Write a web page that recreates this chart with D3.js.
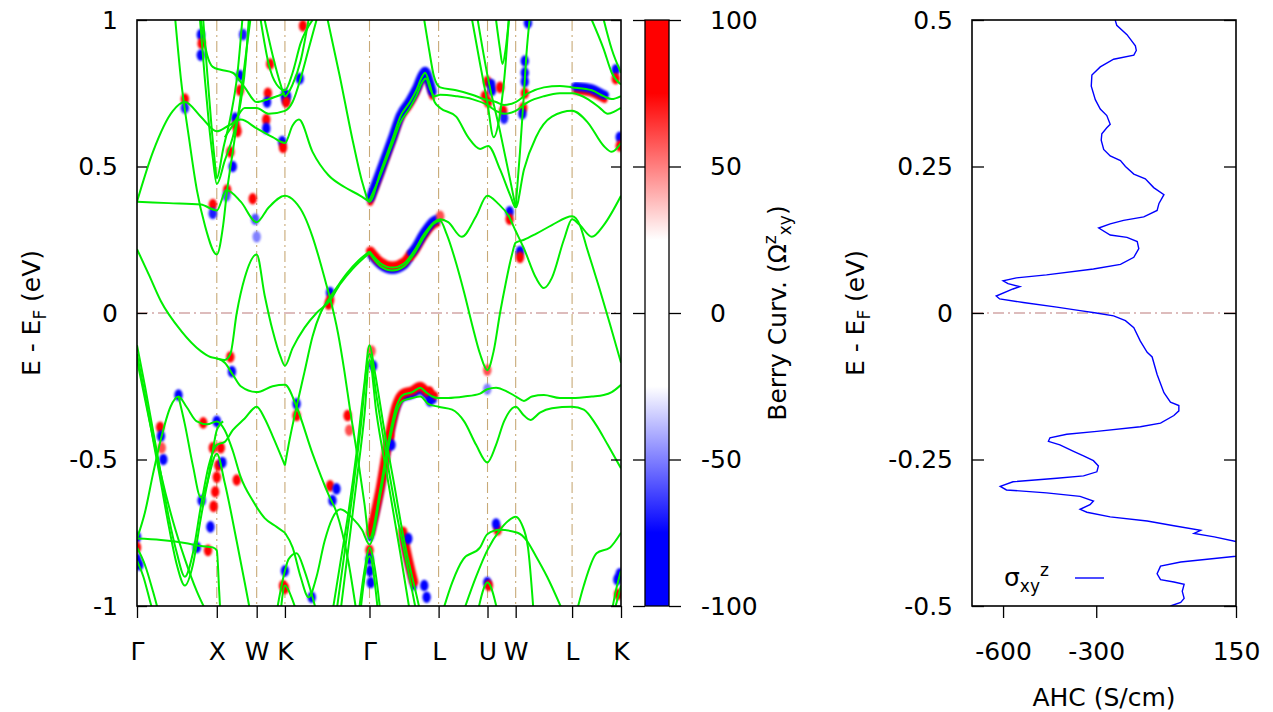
<!DOCTYPE html>
<html>
<head>
<meta charset="utf-8">
<script src="https://cdn.jsdelivr.net/npm/d3@7"></script>
<style>
  body { margin: 0; background: #fff; }
  text { font-family: "DejaVu Sans", sans-serif; fill: #000; }
</style>
</head>
<body>
<svg id="chart" width="1273" height="712"></svg>
<script>
// ---- k-path ----
const kTicks = [0, 1, 1.5, 1.854, 2.914, 3.78, 4.393, 4.746, 5.453, 6.066];
const kLabels = ["Γ", "X", "W", "K", "Γ", "L", "U", "W", "L", "K"];
const energyTicks = [-1, -0.5, 0, 0.5, 1];
const berryTicks = [-100, -50, 0, 50, 100];
const ahcTicks = [-600, -300, 150];
const ahcEnergyTicks = [-0.5, -0.25, 0, 0.25, 0.5];

// ---- bands, [k, E] ----
const bandU1 = [[0,0.38],[0.2,0.55],[0.45,0.69],[0.6,0.72],[0.8,0.67],[1.0,0.62],[1.15,0.64],[1.3,0.66],[1.5,0.63],[1.7,0.6],[1.854,0.58],[1.95,0.64],[2.03,0.66],[2.2,0.55],[2.4,0.47],[2.6,0.43],[2.8,0.40],[2.914,0.38]];
const bandL1 = [[0,0.38],[0.4,0.375],[0.8,0.37],[1.0,0.35],[1.12,0.42],[1.3,0.38],[1.5,0.31],[1.65,0.36],[1.854,0.40],[1.98,0.38],[2.1,0.33],[2.2,0.26],[2.3,0.17],[2.37,0.10],[2.42,0.05],[2.52,-0.07],[2.6,-0.2],[2.67,-0.33],[2.77,-0.5],[2.85,-0.65],[2.914,-0.77],[3.05,-0.6],[3.15,-0.44],[3.25,-0.32],[3.33,-0.28],[3.45,-0.27],[3.55,-0.255],[3.62,-0.27],[3.7,-0.285],[3.78,-0.29],[3.9,-0.29],[4.1,-0.285],[4.3,-0.275],[4.39,-0.26],[4.5,-0.255],[4.65,-0.27],[4.75,-0.285],[4.85,-0.30],[4.95,-0.285],[5.1,-0.28],[5.3,-0.29],[5.453,-0.29],[5.7,-0.285],[5.85,-0.28],[5.95,-0.27],[6.066,-0.245]];
const bandL1b = [[1.854,-0.75],[1.95,-0.80],[2.05,-0.90],[2.15,-0.97],[2.25,-0.90],[2.35,-0.78],[2.45,-0.70],[2.55,-0.67],[2.7,-0.70],[2.82,-0.74],[2.914,-0.79],[3.05,-0.62],[3.15,-0.46],[3.25,-0.34],[3.33,-0.30],[3.45,-0.29],[3.55,-0.285],[3.65,-0.31],[3.78,-0.32],[3.95,-0.33],[4.1,-0.37],[4.25,-0.45],[4.39,-0.51],[4.5,-0.45],[4.6,-0.37],[4.746,-0.32],[4.85,-0.35],[4.93,-0.365],[5.05,-0.34],[5.2,-0.325],[5.453,-0.32],[5.6,-0.33],[5.75,-0.38],[5.9,-0.45],[6.066,-0.53]];
const bandU3 = [[2.39,1.0],[2.54,0.81],[2.71,0.58],[2.83,0.44],[2.914,0.38],[3.05,0.48],[3.21,0.60],[3.3,0.67],[3.42,0.72],[3.5,0.76],[3.58,0.81],[3.61,0.82],[3.67,0.78],[3.73,0.72],[3.8,0.70],[4.0,0.67],[4.15,0.60],[4.3,0.56],[4.4,0.57],[4.55,0.49],[4.68,0.40],[4.746,0.36],[4.85,0.49],[5.0,0.60],[5.2,0.67],[5.453,0.69],[5.65,0.65],[5.85,0.57],[5.95,0.55],[6.066,0.58]];
const bandU5 = [[2.914,0.385],[3.05,0.47],[3.21,0.585],[3.3,0.65],[3.42,0.70],[3.5,0.74],[3.58,0.79],[3.62,0.80],[3.68,0.76],[3.73,0.74],[3.8,0.745],[4.0,0.74],[4.2,0.73],[4.39,0.71],[4.5,0.69],[4.6,0.68],[4.746,0.69],[4.9,0.72],[5.1,0.74],[5.3,0.75],[5.453,0.75],[5.65,0.73],[5.8,0.70],[5.9,0.68],[6.0,0.69],[6.066,0.70]];
const bandU4 = [[3.6,1.0],[3.66,0.9],[3.72,0.81],[3.8,0.77],[4.0,0.76],[4.2,0.745],[4.35,0.73],[4.5,0.72],[4.6,0.71],[4.746,0.72],[4.9,0.75],[5.1,0.77],[5.3,0.775],[5.453,0.77],[5.7,0.76],[5.85,0.74],[5.95,0.73],[6.066,0.74]];
const bandM1 = [[2.914,0.21],[3.05,0.17],[3.2,0.155],[3.35,0.17],[3.48,0.215],[3.6,0.27],[3.72,0.31],[3.8,0.32],[3.9,0.31],[4.07,0.26],[4.25,0.33],[4.39,0.40],[4.52,0.375],[4.66,0.33],[4.746,0.28],[4.85,0.22],[5.0,0.12],[5.1,0.085],[5.2,0.12],[5.35,0.25],[5.453,0.32],[5.55,0.30],[5.7,0.26],[5.85,0.30],[6.066,0.40]];
const bandM2 = [[2.914,0.205],[3.05,0.16],[3.2,0.145],[3.35,0.16],[3.48,0.205],[3.6,0.26],[3.72,0.305],[3.8,0.315],[3.88,0.27],[4.0,0.17],[4.1,0.07],[4.2,-0.04],[4.3,-0.14],[4.39,-0.195],[4.47,-0.13],[4.55,0.0],[4.62,0.1],[4.7,0.2],[4.746,0.24],[4.85,0.25],[5.0,0.27],[5.2,0.30],[5.453,0.33],[5.55,0.30],[5.64,0.22],[5.8,0.08],[5.93,-0.04],[6.066,-0.17]];
const bandN2 = [[1.854,-0.52],[1.9,-0.45],[2.0,-0.32],[2.1,-0.20],[2.2,-0.08],[2.3,0.0],[2.41,0.05],[2.51,0.09],[2.63,0.135],[2.78,0.18],[2.914,0.21]];
const bandD1 = [[0,0.218],[0.15,0.13],[0.3,0.04],[0.55,-0.06],[0.8,-0.13],[0.92,-0.15],[1.0,-0.155],[1.1,-0.16],[1.17,-0.14],[1.25,0.0],[1.35,0.12],[1.5,0.2],[1.6,0.06],[1.7,-0.06],[1.8,-0.15],[1.854,-0.18],[1.95,-0.12],[2.1,-0.05],[2.25,0.0],[2.41,0.04],[2.55,0.10],[2.7,0.15],[2.914,0.205]];
const bandD2 = [[1.0,-0.155],[1.1,-0.17],[1.2,-0.21],[1.3,-0.25],[1.5,-0.27],[1.7,-0.25],[1.854,-0.245],[2.0,-0.32],[2.2,-0.48],[2.4,-0.62],[2.5,-0.68],[2.65,-0.85],[2.75,-1.02]];
const bandG1 = [[0,-0.11],[0.1,-0.25],[0.2,-0.40],[0.3,-0.55],[0.4,-0.70],[0.5,-0.82],[0.6,-0.90],[0.7,-0.82],[0.8,-0.66],[0.9,-0.52],[1.0,-0.45],[1.1,-0.44],[1.2,-0.40],[1.35,-0.36],[1.5,-0.32],[1.6,-0.36],[1.7,-0.42],[1.854,-0.52]];
const bandG2 = [[0,-0.14],[0.1,-0.28],[0.2,-0.43],[0.3,-0.58],[0.4,-0.73],[0.5,-0.86],[0.6,-0.93],[0.7,-0.86],[0.8,-0.70],[0.9,-0.56],[1.0,-0.48],[1.1,-0.58],[1.25,-0.78],[1.35,-0.92],[1.42,-1.02]];
const bandG3 = [[0,-0.16],[0.15,-0.36],[0.3,-0.55],[0.45,-0.71],[0.6,-0.84],[0.75,-0.95],[0.87,-1.02]];
const bandH1 = [[0,-0.77],[0.1,-0.68],[0.2,-0.55],[0.3,-0.43],[0.42,-0.32],[0.52,-0.285],[0.62,-0.32],[0.75,-0.37],[0.88,-0.38],[1.0,-0.37],[1.1,-0.40],[1.2,-0.47],[1.3,-0.56],[1.45,-0.64],[1.6,-0.70],[1.75,-0.73],[1.854,-0.75]];
const bandH2 = [[0.52,-0.285],[0.6,-0.38],[0.7,-0.52],[0.8,-0.63],[0.88,-0.58],[0.95,-0.47],[1.0,-0.40],[1.08,-0.37]];
const bandF1 = [[0,-0.77],[0.3,-0.775],[0.6,-0.785],[0.8,-0.795],[0.95,-0.80],[1.0,-0.81],[1.03,-0.95],[1.05,-1.05]];
const bandF2 = [[0,-0.80],[0.1,-0.86],[0.2,-0.95],[0.27,-1.02]];
const bandF3 = [[0,-0.845],[0.08,-0.9],[0.16,-0.98],[0.2,-1.02]];
const bandV1a = [[0.79,1.0],[0.85,0.8],[0.9,0.65],[0.95,0.53],[1.0,0.44],[1.1,0.52],[1.2,0.6],[1.3,0.72],[1.36,0.85],[1.4,1.0]];
const bandV1b = [[0.83,1.0],[0.88,0.82],[0.93,0.65],[0.97,0.53],[1.0,0.46],[1.08,0.56],[1.18,0.68],[1.26,0.82],[1.32,1.0]];
const bandV2 = [[0.48,1.0],[0.55,0.8],[0.65,0.6],[0.75,0.42],[0.85,0.3],[1.0,0.2],[1.08,0.3],[1.13,0.42],[1.2,0.55],[1.28,0.7],[1.35,0.85],[1.42,1.0]];
const bandW3 = [[0.8,1.0],[0.88,0.88],[0.95,0.84],[1.05,0.83],[1.2,0.82],[1.35,0.77],[1.5,0.72],[1.65,0.73],[1.854,0.75]];
const bandW1 = [[1.1,0.60],[1.2,0.64],[1.35,0.70],[1.5,0.70],[1.65,0.68],[1.854,0.69],[1.95,0.72],[2.05,0.80],[2.15,0.90],[2.25,1.0]];
const bandT1 = [[1.55,1.0],[1.65,0.85],[1.75,0.78],[1.854,0.76],[1.95,0.82],[2.05,0.92],[2.2,1.0]];
const bandT2 = [[1.6,1.0],[1.7,0.88],[1.8,0.78],[1.854,0.74],[1.95,0.78],[2.05,0.86],[2.15,1.0]];
const bandL2a = [[2.45,-1.02],[2.55,-0.85],[2.65,-0.68],[2.75,-0.48],[2.85,-0.24],[2.914,-0.11],[2.98,-0.20],[3.1,-0.40],[3.22,-0.58],[3.35,-0.78],[3.5,-0.96],[3.55,-1.02]];
const bandL2b = [[2.5,-1.02],[2.6,-0.82],[2.7,-0.62],[2.8,-0.40],[2.914,-0.14],[3.0,-0.28],[3.12,-0.48],[3.25,-0.68],[3.4,-0.88],[3.5,-1.02]];
const bandL2c = [[2.55,-1.02],[2.65,-0.80],[2.75,-0.58],[2.85,-0.35],[2.914,-0.16],[3.0,-0.34],[3.15,-0.58],[3.3,-0.82],[3.42,-1.02]];
const bandL3a = [[2.78,-1.02],[2.85,-0.88],[2.914,-0.80],[2.98,-0.87],[3.05,-1.02]];
const bandL3b = [[2.8,-1.02],[2.914,-0.83],[3.02,-1.02]];
const bandK2 = [[1.75,-1.02],[1.82,-0.92],[1.854,-0.88],[1.9,-0.84],[2.0,-0.82],[2.1,-0.88],[2.2,-0.97],[2.25,-1.02]];
const bandK3 = [[1.8,-1.02],[1.854,-0.93],[1.95,-0.98],[2.0,-1.02]];
const bandR1 = [[4.2,1.0],[4.3,0.85],[4.39,0.72],[4.47,0.60],[4.55,0.68],[4.62,0.85],[4.66,1.0]];
const bandR2 = [[4.746,0.36],[4.8,0.55],[4.85,0.75],[4.88,0.88],[4.92,1.0]];
const bandR3 = [[4.5,1.0],[4.55,0.9],[4.58,0.85],[4.62,0.9],[4.66,1.0]];
const bandR5 = [[4.27,1.0],[4.4,0.8],[4.55,0.62],[4.68,0.45],[4.746,0.36]];
const bandS2 = [[5.7,1.0],[5.85,0.9],[5.95,0.82],[6.066,0.78]];
const bandS3 = [[5.85,1.0],[5.95,0.9],[6.066,0.82]];
const bandP1 = [[3.83,-1.02],[3.95,-0.92],[4.09,-0.84],[4.3,-0.80],[4.39,-0.755],[4.55,-0.74],[4.77,-0.75],[4.88,-0.775],[5.0,-0.83],[5.14,-0.90],[5.34,-1.02]];
const bandP2 = [[4.09,-1.02],[4.25,-0.9],[4.39,-0.81],[4.55,-0.74],[4.65,-0.71],[4.746,-0.695],[4.82,-0.72],[4.9,-0.8],[4.97,-1.02]];
const bandP3 = [[5.51,-1.02],[5.6,-0.93],[5.76,-0.82],[5.93,-0.80],[6.066,-0.75]];
const bandP4 = [[4.27,-1.02],[4.393,-0.92],[4.52,-1.02]];
const bandP5 = [[5.95,-1.02],[6.0,-0.95],[6.066,-0.88]];
const bandP6 = [[5.98,-1.02],[6.066,-0.93]];

const bands = [bandU1, bandL1, bandL1b, bandU3, bandU5, bandU4, bandM1, bandM2, bandN2,
  bandD1, bandD2, bandG1, bandG2, bandG3, bandH1, bandH2, bandF1, bandF2, bandF3, bandV1a, bandV1b, bandV2,
  bandW3, bandW1, bandT1, bandT2, bandL2a, bandL2b, bandL2c, bandL3a, bandL3b, bandK2, bandK3,
  bandR1, bandR2, bandR3, bandR5, bandS2, bandS3, bandP1, bandP2, bandP3, bandP4, bandP5, bandP6];

// Berry curvature along stretches of bands: value above / below the line
const berryStretches = [
  { band: bandU3, from: 2.925, to: 3.7, above: -100, below: 95 },
  { band: bandM1, from: 2.925, to: 3.42, above: 100, below: -100 },
  { band: bandM1, from: 3.44, to: 3.76, above: -100, below: 90 },
  { band: bandL1, from: 2.925, to: 3.72, above: 100, below: -100 },
  { band: bandL2a, from: 3.33, to: 3.47, above: 100, below: -90 },
  { band: bandU4, from: 5.5, to: 5.86, above: -100, below: 100 }
];

// Berry curvature hot spots, [k, E, value]
const berrySpots = [
  [0.6,0.73,90],[0.6,0.70,-70],[0.8,0.95,-90],[0.81,0.92,80],[0.8,0.88,-80],
  [0.95,0.37,90],[0.95,0.34,-70],[1.13,0.42,90],[1.12,0.40,-60],[1.17,0.55,85],[1.2,0.50,-80],
  [1.23,0.665,-90],[1.24,0.64,90],[1.26,0.62,80],[1.29,0.81,-100],[1.29,0.76,90],[1.33,0.95,-70],
  [1.45,0.39,80],[1.48,0.32,-60],[1.5,0.26,-50],[1.64,0.75,90],[1.63,0.72,-80],[1.62,0.66,90],
  [1.62,0.63,-90],[1.67,0.85,90],[1.82,0.585,-100],[1.83,0.565,90],[1.854,0.745,-100],
  [1.86,0.73,-90],[1.88,0.74,-90],[1.87,0.72,80],[2.04,0.80,-90],[2.08,0.98,95],
  [2.42,0.07,-90],[2.42,0.045,80],[2.4,0.03,90],
  [4.39,0.79,90],[4.44,0.78,-95],[4.45,0.76,-90],[4.36,0.74,90],[4.4,0.72,95],[4.55,0.77,90],
  [4.59,0.69,95],[4.6,0.665,-70],[4.86,0.86,-100],[4.86,0.82,-100],[4.86,0.79,-95],[4.86,0.75,90],
  [4.84,0.70,90],[4.83,0.68,-80],[4.9,0.99,-90],[4.67,0.345,-90],[4.67,0.32,90],[4.8,0.21,-90],
  [4.8,0.19,90],[3.8,0.33,60],[6.0,0.83,-90],[6.0,0.80,90],[6.05,0.60,-100],[6.05,0.57,95],
  [0,-0.765,-100],[0,-0.80,100],[0,-0.84,-100],[0.03,-0.86,-80],[0.29,-0.39,90],[0.3,-0.42,-90],
  [0.33,-0.50,-90],[0.31,-0.46,60],[0.52,-0.28,-80],[0.81,-0.64,-95],[0.75,-0.80,-90],[0.89,-0.81,95],
  [0.92,-0.73,-90],[0.96,-0.66,100],[0.98,-0.61,100],[1.0,-0.56,100],[1.02,-0.52,90],[0.95,-0.46,95],
  [1.05,-0.46,90],[1.07,-0.51,-90],[0.83,-0.375,80],[1.0,-0.37,-80],[1.17,-0.15,95],[1.19,-0.20,-90],
  [1.25,-0.57,95],[1.854,-0.88,-95],[1.854,-0.94,100],[1.83,-0.93,90],
  [2.0,-0.31,-100],[2.0,-0.35,80],[2.64,-0.35,90],[2.66,-0.40,60],[2.42,-0.59,95],[2.45,-0.64,-90],
  [2.5,-0.60,-80],[2.19,-0.97,-80],[2.914,-0.81,100],[2.914,-0.84,-100],[2.92,-0.88,-90],
  [2.93,-0.92,-90],[2.96,-0.18,-90],[2.94,-0.13,60],[3.17,-0.42,90],[3.19,-0.45,-90],
  [3.4,-0.77,-90],[3.63,-0.97,-90],[3.6,-0.93,-90],
  [4.39,-0.195,60],[4.39,-0.26,-50],[4.52,-0.74,95],[4.5,-0.72,-90],[4.39,-0.92,-90],[4.41,-0.93,90],
  [6.02,-0.91,-100],[6.03,-0.96,100],[6.05,-0.89,-90],[3.67,-0.27,90],[3.67,-0.30,-90]
];

// ---- anomalous Hall conductivity ----
const ahcEnergy = [0.5,0.491,0.475,0.456,0.448,0.44,0.433,0.42,0.406,0.387,0.364,0.348,0.337,0.322,0.316,0.306,0.295,0.279,0.268,0.26,0.25,0.237,0.229,0.214,0.202,0.187,0.175,0.164,0.158,0.152,0.145,0.133,0.129,0.122,0.11,0.095,0.083,0.075,0.065,0.06,0.055,0.05,0.045,0.041,0.029,0.024,0.018,0.01,0.004,0,-0.005,-0.013,-0.025,-0.048,-0.067,-0.075,-0.105,-0.136,-0.152,-0.158,-0.167,-0.175,-0.188,-0.194,-0.202,-0.207,-0.213,-0.219,-0.225,-0.236,-0.244,-0.252,-0.261,-0.271,-0.278,-0.282,-0.288,-0.296,-0.302,-0.307,-0.313,-0.321,-0.327,-0.335,-0.34,-0.348,-0.355,-0.363,-0.371,-0.376,-0.382,-0.39,-0.40,-0.41,-0.415,-0.425,-0.432,-0.445,-0.455,-0.459,-0.463,-0.475,-0.487,-0.494,-0.5];
const ahcValue = [-239,-234,-201,-174,-171,-179,-244,-287,-314,-316,-303,-287,-266,-255,-266,-282,-284,-276,-255,-222,-206,-179,-142,-115,-82,-98,-104,-147,-212,-255,-292,-255,-201,-168,-163,-179,-222,-309,-460,-557,-600,-584,-546,-568,-622,-611,-535,-427,-352,-300,-244,-206,-179,-158,-136,-120,-104,-82,-61,-34,-34,-50,-93,-158,-298,-395,-449,-454,-417,-373,-341,-309,-293,-298,-341,-427,-568,-609,-589,-460,-352,-309,-320,-352,-330,-255,-136,-50,36,15,80,150,175,170,150,-28,-93,-104,-93,-50,-17,-23,-17,-28,-61];

// ---- layout ----
const svg = d3.select("#chart");
const FONT = 25;
const bandArea = { left: 137, right: 621, top: 20, bottom: 606 };
const ahcArea = { left: 972, right: 1236, top: 20, bottom: 606 };

const kScale = d3.scaleLinear().domain([0, 6.066]).range([bandArea.left, bandArea.right]);
const eScale = d3.scaleLinear().domain([-1, 1]).range([bandArea.bottom, bandArea.top]);
const berryScale = d3.scaleLinear().domain([-100, 100]).range([606, 20]);
const berryColour = d3.scaleLinear()
  .domain([-100, -75, -25, 25, 75, 100])
  .range(["#0000ff", "#0000ff", "#ffffff", "#ffffff", "#ff0000", "#ff0000"])
  .clamp(true);
const ahcX = d3.scaleLinear().domain([-700, 150]).range([ahcArea.left, ahcArea.right]);
const ahcY = d3.scaleLinear().domain([-0.5, 0.5]).range([ahcArea.bottom, ahcArea.top]);

const defs = svg.append("defs");
defs.append("clipPath").attr("id", "bandClip").append("rect")
  .attr("x", bandArea.left).attr("y", bandArea.top)
  .attr("width", bandArea.right - bandArea.left).attr("height", bandArea.bottom - bandArea.top);
defs.append("clipPath").attr("id", "ahcClip").append("rect")
  .attr("x", ahcArea.left).attr("y", ahcArea.top)
  .attr("width", ahcArea.right - ahcArea.left).attr("height", ahcArea.bottom - ahcArea.top);
defs.append("filter").attr("id", "soft").attr("x", "-50%").attr("y", "-50%").attr("width", "200%").attr("height", "200%")
  .append("feGaussianBlur").attr("stdDeviation", 0.9);

function styleAxis(g) {
  g.select(".domain").remove();
  g.attr("font-size", FONT).attr("font-family", "DejaVu Sans, sans-serif");
  g.selectAll(".tick line").attr("stroke-width", 1.3);
}

// part of a band between two k values
function stretchOf(band, k0, k1) {
  const at = k => {
    for (let i = 0; i < band.length - 1; i++) {
      const [a, ea] = band[i], [b, eb] = band[i + 1];
      if (k >= a && k <= b) return ea + (eb - ea) * (k - a) / (b - a);
    }
    return band[band.length - 1][1];
  };
  return [[k0, at(k0)], ...band.filter(p => p[0] > k0 && p[0] < k1), [k1, at(k1)]];
}

const bandLine = d3.line().x(d => kScale(d[0])).y(d => eScale(d[1])).curve(d3.curveMonotoneX);

// ---- band structure panel ----
const plot = svg.append("g").attr("clip-path", "url(#bandClip)");

plot.selectAll(".kline").data(kTicks.slice(1, -1)).join("line")
  .attr("x1", d => kScale(d)).attr("x2", d => kScale(d))
  .attr("y1", bandArea.top).attr("y2", bandArea.bottom)
  .attr("stroke", "#c8aa78").attr("stroke-width", 1.1).attr("stroke-dasharray", "11,4,2,4");
plot.append("line")
  .attr("x1", bandArea.left).attr("x2", bandArea.right)
  .attr("y1", eScale(0)).attr("y2", eScale(0))
  .attr("stroke", "#bb7a7a").attr("stroke-width", 1.1).attr("stroke-dasharray", "11,4,2,4");

berryStretches.forEach(s => {
  const pts = stretchOf(s.band, s.from, s.to);
  plot.append("path").attr("d", bandLine(pts)).attr("fill", "none")
    .attr("stroke", berryColour(s.below)).attr("stroke-width", 6).attr("stroke-linecap", "round")
    .attr("transform", "translate(0,3.5)").attr("filter", "url(#soft)");
  plot.append("path").attr("d", bandLine(pts)).attr("fill", "none")
    .attr("stroke", berryColour(s.above)).attr("stroke-width", 9).attr("stroke-linecap", "round")
    .attr("transform", "translate(0,-1.5)").attr("filter", "url(#soft)");
});

plot.selectAll(".spot").data(berrySpots).join("ellipse")
  .attr("cx", d => kScale(d[0])).attr("cy", d => eScale(d[1]))
  .attr("rx", 4.2).attr("ry", 5.8)
  .attr("fill", d => berryColour(d[2]))
  .attr("filter", "url(#soft)");

plot.selectAll(".band").data(bands).join("path")
  .attr("d", bandLine).attr("fill", "none")
  .attr("stroke", "#00ee00").attr("stroke-width", 2);

svg.append("rect")
  .attr("x", bandArea.left).attr("y", bandArea.top)
  .attr("width", bandArea.right - bandArea.left).attr("height", bandArea.bottom - bandArea.top)
  .attr("fill", "none").attr("stroke", "#000").attr("stroke-width", 1.6);

svg.append("g").attr("transform", `translate(${bandArea.left},0)`)
  .call(d3.axisLeft(eScale).tickValues(energyTicks).tickSize(-10).tickPadding(19).tickFormat(d => String(d)))
  .call(styleAxis);
svg.append("g").attr("transform", `translate(${bandArea.right},0)`)
  .call(d3.axisRight(eScale).tickValues(energyTicks).tickSize(-10).tickFormat(""))
  .call(styleAxis);
svg.append("g").attr("transform", `translate(0,${bandArea.bottom})`)
  .call(d3.axisBottom(kScale).tickValues(kTicks).tickSize(12).tickPadding(24).tickFormat((d, i) => kLabels[i]))
  .call(styleAxis);

const yLabel = (x, y) => {
  const t = svg.append("text").attr("transform", `translate(${x},${y}) rotate(-90)`)
    .attr("text-anchor", "middle").attr("font-size", FONT);
  t.append("tspan").text("E - E");
  t.append("tspan").attr("font-size", 17).attr("dy", 6).text("F");
  t.append("tspan").attr("dy", -6).text(" (eV)");
};
yLabel(40, 313);

// ---- colour box ----
const grad = defs.append("linearGradient").attr("id", "berryGrad")
  .attr("x1", 0).attr("y1", 1).attr("x2", 0).attr("y2", 0);
grad.selectAll("stop").data(berryColour.domain()).join("stop")
  .attr("offset", d => (d + 100) / 200)
  .attr("stop-color", d => berryColour(d));
svg.append("rect").attr("x", 645).attr("y", berryScale(100))
  .attr("width", 24).attr("height", berryScale(-100) - berryScale(100))
  .attr("fill", "url(#berryGrad)").attr("stroke", "#000").attr("stroke-width", 1.3);
svg.append("g").attr("transform", "translate(645,0)")
  .call(d3.axisLeft(berryScale).tickValues(berryTicks).tickSize(12).tickFormat(""))
  .call(styleAxis);
svg.append("g").attr("transform", "translate(669,0)")
  .call(d3.axisRight(berryScale).tickValues(berryTicks).tickSize(12).tickPadding(29).tickFormat(d => String(d)))
  .call(styleAxis)
  .call(g => g.selectAll("text").attr("dx", d => d < 0 ? -9 : 0));

const cbLabel = svg.append("text").attr("transform", "translate(786,313) rotate(-90)")
  .attr("text-anchor", "middle").attr("font-size", FONT);
cbLabel.append("tspan").text("Berry Curv. (Ω");
cbLabel.append("tspan").attr("font-size", 17).attr("dy", -10).text("z");
cbLabel.append("tspan").attr("font-size", 17).attr("dy", 15).text("xy");
cbLabel.append("tspan").attr("dy", -5).text(")");

// ---- AHC panel ----
const ahcPoints = ahcEnergy.map((e, i) => [e, ahcValue[i]]);
const ahcPlot = svg.append("g").attr("clip-path", "url(#ahcClip)");
ahcPlot.append("line")
  .attr("x1", ahcArea.left).attr("x2", ahcArea.right)
  .attr("y1", ahcY(0)).attr("y2", ahcY(0))
  .attr("stroke", "#bb7a7a").attr("stroke-width", 1.1).attr("stroke-dasharray", "11,4,2,4");
ahcPlot.append("path")
  .attr("d", d3.line().x(d => ahcX(d[1])).y(d => ahcY(d[0]))(ahcPoints))
  .attr("fill", "none").attr("stroke", "#0000ff").attr("stroke-width", 1.4);

svg.append("rect")
  .attr("x", ahcArea.left).attr("y", ahcArea.top)
  .attr("width", ahcArea.right - ahcArea.left).attr("height", ahcArea.bottom - ahcArea.top)
  .attr("fill", "none").attr("stroke", "#000").attr("stroke-width", 1.6);
svg.append("g").attr("transform", `translate(${ahcArea.left},0)`)
  .call(d3.axisLeft(ahcY).tickValues(ahcEnergyTicks).tickSize(-12).tickPadding(19).tickFormat(d => String(d)))
  .call(styleAxis);
svg.append("g").attr("transform", `translate(${ahcArea.right},0)`)
  .call(d3.axisRight(ahcY).tickValues(ahcEnergyTicks).tickSize(-12).tickFormat(""))
  .call(styleAxis);
svg.append("g").attr("transform", `translate(0,${ahcArea.bottom})`)
  .call(d3.axisBottom(ahcX).tickValues(ahcTicks).tickSize(12).tickPadding(24).tickFormat(d => String(d)))
  .call(styleAxis);

yLabel(864, 313);
svg.append("text").attr("x", 1104).attr("y", 706).attr("text-anchor", "middle")
  .attr("font-size", FONT).text("AHC (S/cm)");

// legend
const leg = svg.append("text").attr("x", 1004).attr("y", 586).attr("font-size", FONT);
leg.append("tspan").text("σ");
leg.append("tspan").attr("font-size", 17).attr("dy", 6).text("xy");
leg.append("tspan").attr("font-size", 17).attr("dy", -16).text("z");
svg.append("line").attr("x1", 1075).attr("x2", 1104).attr("y1", 578).attr("y2", 578)
  .attr("stroke", "#0000ff").attr("stroke-width", 1.4);
</script>
</body>
</html>
